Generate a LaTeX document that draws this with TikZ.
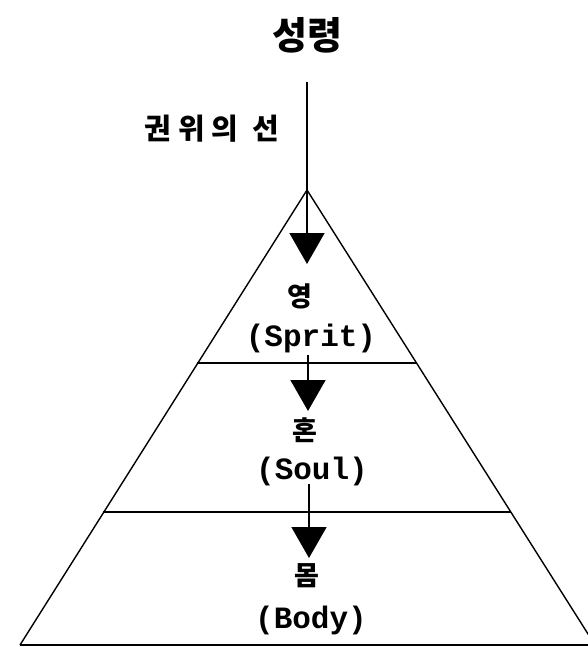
\documentclass[tikz,border=0pt]{standalone}
\usepackage{fontspec}
\newfontfamily\cjk{Noto Sans CJK KR}
\newfontfamily\cjkspaced{Noto Sans CJK KR}[LetterSpace=24]
\newfontfamily\monof{Liberation Mono}
\usetikzlibrary{arrows.meta}
\tikzset{
  edge/.style={line width=1.4pt},
  flow/.style={line width=1.6pt,-{Triangle[length=31pt,width=35pt]}},
  kor/.style={font=\cjk\bfseries\fontsize{27}{29}\selectfont,inner sep=0pt},
  eng/.style={font=\monof\bfseries\fontsize{31}{32}\selectfont,inner sep=0pt},
}
\begin{document}
\begin{tikzpicture}[x=1pt,y=-1pt]
\useasboundingbox (0,0) rectangle (588,647);
\clip (0,0) rectangle (588,647);
\fill[white] (0,0) rectangle (588,647);
% triangle
\coordinate (apex) at (307,190);
\coordinate (bl) at (20,645);
\coordinate (br) at (595,645);
\draw[edge] (bl) -- (apex) -- (br);
\draw[line width=2.8pt] (bl) -- (br);
\draw[edge] (197,363) -- (417,363);
\draw[edge] (103,512) -- (511,512);
% texts
\node[kor,font=\cjk\bfseries\fontsize{38}{40}\selectfont] (title) at (307,35) {성령};
\node[kor,font=\cjkspaced\bfseries\fontsize{29}{30}\selectfont] (auth) at (212,129) {권위의\hspace{14pt}선};
\node[kor] (k1) at (300,296) {영};
\node[eng] (e1) at (311,338) {(Sprit)};
\node[kor] (k2) at (305,430) {혼};
\node[eng] (e2) at (312,471) {(Soul)};
\node[kor] (k3) at (307,576) {몸};
\node[eng] (e3) at (311,620) {(Body)};
% arrows
\coordinate (top) at (307,82);
\coordinate (t1) at (307,264);
\coordinate (s2) at (308,355);
\coordinate (t2) at (308,411);
\coordinate (s3) at (309,484);
\coordinate (t3) at (309,558);
\draw[flow] (top) -- (t1);
\draw[flow] (s2) -- (t2);
\draw[flow] (s3) -- (t3);
\end{tikzpicture}
\end{document}
